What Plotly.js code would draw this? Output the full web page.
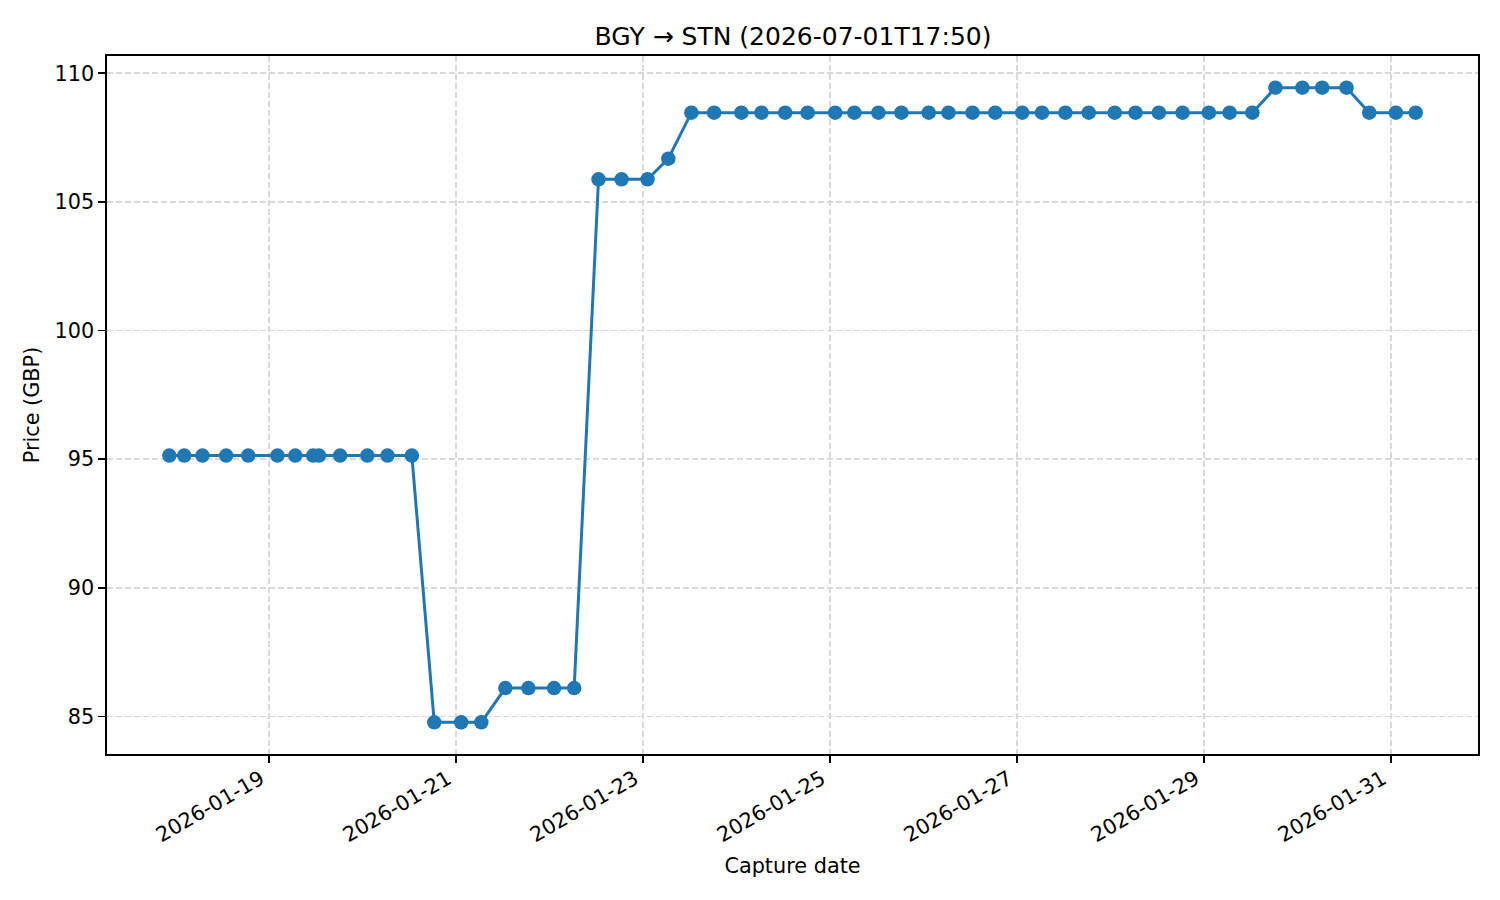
<!DOCTYPE html>
<html>
<head>
<meta charset="utf-8">
<script src="https://cdn.plot.ly/plotly-3.0.1.min.js"></script>
<style>
  html, body { margin: 0; padding: 0; background: #fff; }
  #chart { width: 1500px; height: 900px; }
</style>
</head>
<body>
<div id="chart"></div>
<script>
var captureDates = [
    '2026-01-17 22:30', '2026-01-18 02:20', '2026-01-18 07:00', '2026-01-18 13:05', '2026-01-18 18:45',
    '2026-01-19 02:15', '2026-01-19 06:50', '2026-01-19 11:25', '2026-01-19 12:55', '2026-01-19 18:20',
    '2026-01-20 01:20', '2026-01-20 06:30', '2026-01-20 12:45',
    '2026-01-20 18:30', '2026-01-21 01:25', '2026-01-21 06:35',
    '2026-01-21 12:45', '2026-01-21 18:40', '2026-01-22 01:15', '2026-01-22 06:25',
    '2026-01-22 12:40', '2026-01-22 18:35', '2026-01-23 01:15',
    '2026-01-23 06:35',
    '2026-01-23 12:30', '2026-01-23 18:20', '2026-01-24 01:20', '2026-01-24 06:30', '2026-01-24 12:35', '2026-01-24 18:20',
    '2026-01-25 01:25', '2026-01-25 06:20', '2026-01-25 12:30', '2026-01-25 18:25',
    '2026-01-26 01:25', '2026-01-26 06:30', '2026-01-26 12:40', '2026-01-26 18:30',
    '2026-01-27 01:25', '2026-01-27 06:30', '2026-01-27 12:30', '2026-01-27 18:30',
    '2026-01-28 01:10', '2026-01-28 06:30', '2026-01-28 12:30', '2026-01-28 18:35',
    '2026-01-29 01:20', '2026-01-29 06:40', '2026-01-29 12:30',
    '2026-01-29 18:25', '2026-01-30 01:20', '2026-01-30 06:25', '2026-01-30 12:40',
    '2026-01-30 18:30', '2026-01-31 01:20', '2026-01-31 06:25'
];

var prices = [
    95.14, 95.14, 95.14, 95.14, 95.14,
    95.14, 95.14, 95.14, 95.14, 95.14,
    95.14, 95.14, 95.14,
    84.77, 84.77, 84.77,
    86.10, 86.10, 86.10, 86.10,
    105.88, 105.88, 105.88,
    106.68,
    108.47, 108.47, 108.47, 108.47, 108.47, 108.47,
    108.47, 108.47, 108.47, 108.47,
    108.47, 108.47, 108.47, 108.47,
    108.47, 108.47, 108.47, 108.47,
    108.47, 108.47, 108.47, 108.47,
    108.47, 108.47, 108.47,
    109.44, 109.44, 109.44, 109.44,
    108.47, 108.47, 108.47
];

var chartTitle = 'BGY → STN (2026-07-01T17:50)';
var xLabel = 'Capture date';
var yLabel = 'Price (GBP)';

function toMs(s) {
    return new Date(s.replace(' ', 'T') + ':00Z').getTime();
}

function msToStr(ms) {
    return new Date(ms).toISOString().replace('T', ' ').slice(0, 19);
}

// matplotlib style 5% padding around the data
function paddedRange(lo, hi) {
    var pad = (hi - lo) * 0.05;
    return [lo - pad, hi + pad];
}

var times = captureDates.map(toMs);
var xr = paddedRange(Math.min.apply(null, times), Math.max.apply(null, times));
var yr = paddedRange(Math.min.apply(null, prices), Math.max.apply(null, prices));

var trace = {
    type: 'scatter',
    mode: 'lines+markers',
    x: captureDates,
    y: prices,
    line: {color: '#1f77b4', width: 3},
    marker: {color: '#1f77b4', size: 14.5},
    showlegend: false
};

var font = {family: 'DejaVu Sans', size: 20.8, color: '#000'};

var layout = {
    width: 1500,
    height: 900,
    paper_bgcolor: '#fff',
    plot_bgcolor: '#fff',
    font: font,
    margin: {l: 107, r: 22, t: 56, b: 146},
    title: {
        text: chartTitle,
        font: {family: 'DejaVu Sans', size: 25, color: '#000'},
        x: 0.5287,
        xanchor: 'center',
        yref: 'container',
        y: 1 - 36 / 900,
        yanchor: 'middle'
    },
    xaxis: {
        type: 'date',
        range: [msToStr(xr[0]), msToStr(xr[1])],
        tick0: '2026-01-19',
        dtick: 2 * 86400000,
        tickformat: '%Y-%m-%d',
        tickangle: -30,
        ticklabelshift: -8,
        ticklabelstandoff: -4,
        ticks: 'outside',
        ticklen: 7,
        tickwidth: 1.7,
        tickcolor: '#000',
        showline: true,
        linecolor: '#000',
        linewidth: 1.7,
        mirror: true,
        showgrid: true,
        gridcolor: '#d9d9d9',
        gridwidth: 1.7,
        griddash: '6px,3px',
        zeroline: false,
        tickfont: font,
        title: {text: xLabel, font: font, standoff: 12}
    },
    yaxis: {
        range: yr,
        tick0: 85,
        dtick: 5,
        ticks: 'outside',
        ticklen: 7,
        tickwidth: 1.7,
        tickcolor: '#000',
        showline: true,
        linecolor: '#000',
        linewidth: 1.7,
        mirror: true,
        showgrid: true,
        gridcolor: '#d9d9d9',
        gridwidth: 1.7,
        griddash: '6px,3px',
        zeroline: false,
        tickfont: font,
        title: {text: yLabel, font: font, standoff: 9}
    }
};

Plotly.newPlot('chart', [trace], layout, {displayModeBar: false, staticPlot: true});
</script>
</body>
</html>
